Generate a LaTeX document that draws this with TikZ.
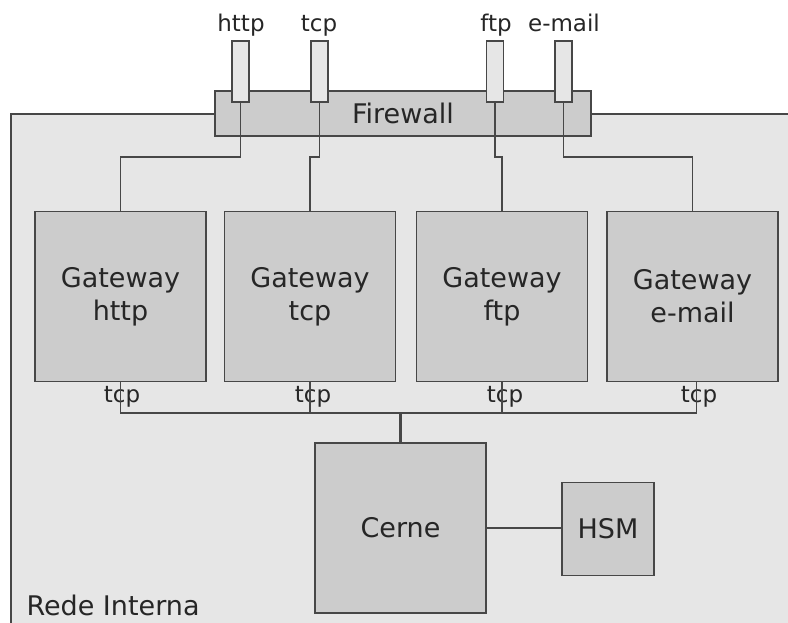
\documentclass[tikz,border=0pt]{standalone}
\usepackage{fontspec}
\setmainfont{DejaVu Sans}
\usetikzlibrary{calc}
\definecolor{bg}{HTML}{E6E6E6}
\definecolor{boxfill}{HTML}{CCCCCC}
\definecolor{edge}{HTML}{474747}
\definecolor{txt}{HTML}{262626}
\begin{document}
\begin{tikzpicture}[x=1pt,y=-1pt,
  big/.style={font=\fontsize{27}{33}\selectfont, text=txt},
  small/.style={font=\fontsize{23}{27}\selectfont, text=txt},
  boxnode/.style={draw=edge, line width=1.6pt, fill=boxfill, inner sep=0pt, align=center, big},
  gw/.style={boxnode, minimum width=171pt, minimum height=170pt},
  port/.style={draw=edge, line width=1.6pt, fill=bg, minimum width=17pt, minimum height=61pt, inner sep=0pt},
  conn/.style={draw=edge, line width=1.6pt},
  busconn/.style={draw=edge, line width=2.6pt}]
\useasboundingbox (0,0) rectangle (788,623);
\clip (0,0) rectangle (788,623);
% internal network region
\node[fill=bg, minimum width=800pt, minimum height=530pt, anchor=north west, inner sep=0pt] (rede) at (11,114) {};
\draw[conn] (rede.south west) -- (rede.north west) -- (rede.north east);
\node[big, anchor=base west] (redelbl) at (23,615) {Rede Interna};
% firewall
\node[boxnode, minimum width=376pt, minimum height=45pt] (fw) at (403,113.5) {Firewall};
% ports
\node[port] (p1) at (240.5,71.5) {};
\node[port] (p2) at (319.5,71.5) {};
\node[port] (p3) at (495,71.5) {};
\node[port] (p4) at (563.5,71.5) {};
\node[small, anchor=base] (l1) at (241,32) {http};
\node[small, anchor=base] (l2) at (319,32) {tcp};
\node[small, anchor=base] (l3) at (496,32) {ftp};
\node[small, anchor=base] (l4) at (564,32) {e-mail};
% gateways
\node[gw] (g1) at (120.5,296.5) {Gateway\\http};
\node[gw] (g2) at (310,296.5) {Gateway\\tcp};
\node[gw] (g3) at (502,296.5) {Gateway\\ftp};
\node[gw] (g4) at (692.5,296.5) {Gateway\\e-mail};
% top connectors
\coordinate (r) at (0,157);
\draw[conn] (p1.south) -- (p1.south |- r) -| (g1.north);
\draw[conn] (p2.south) -- (p2.south |- r) -| (g2.north);
\draw[conn] (p3.south) -- (p3.south |- r) -| (g3.north);
\draw[conn] (p4.south) -- (p4.south |- r) -| (g4.north);
% core and HSM
\node[boxnode, minimum width=171pt, minimum height=170pt] (cerne) at (400.5,528) {Cerne};
\node[boxnode, minimum width=92pt, minimum height=93pt] (hsm) at (608,529) {HSM};
% tcp labels
\node[small, anchor=base] (t1) at (122,402) {tcp};
\node[small, anchor=base] (t2) at (313,402) {tcp};
\node[small, anchor=base] (t3) at (505,402) {tcp};
\node[small, anchor=base] (t4) at (699,402) {tcp};
% bus
\coordinate (bus) at (0,413);
\coordinate (g4x) at ($(g4.south)+(4,0)$);
\draw[conn] (g1.south) -- (g1.south |- bus) -- (g4x |- bus) -- (g4x);
\draw[conn] (g2.south) -- (g2.south |- bus);
\draw[conn] (g3.south) -- (g3.south |- bus);
\draw[busconn] (g2.south |- bus) -- (g3.south |- bus);
\draw[busconn] (cerne.north) -- (cerne.north |- bus);
\draw[conn] (cerne.east) -- (cerne.east -| hsm.west);
\end{tikzpicture}
\end{document}
